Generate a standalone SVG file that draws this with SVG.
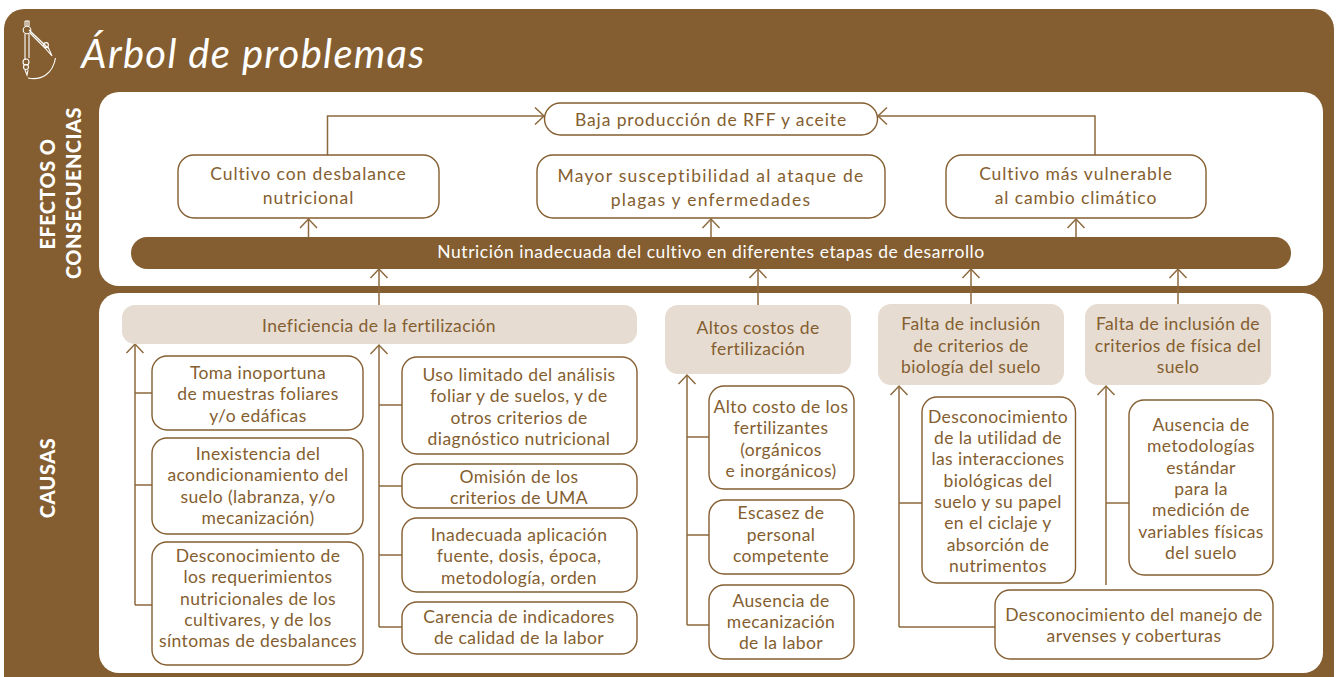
<svg xmlns="http://www.w3.org/2000/svg" width="1340" height="677" viewBox="0 0 1340 677">
<style>
text{font-family:"Lato","Liberation Sans",sans-serif;font-size:17.5px;fill:#845e30;text-anchor:middle;letter-spacing:.4px}
.t1{letter-spacing:.9px}
.t2{letter-spacing:1.25px}
.b{fill:#fff;stroke:#845e30;stroke-width:1.4}
.c{fill:#e6dcd1}
.w{fill:#fff}
.s{font-weight:900;font-size:20px;fill:#fff;letter-spacing:.45px}
.l{fill:none;stroke:#8d6a3e;stroke-width:1.5}
.a{marker-end:url(#h)}
.ic{fill:none;stroke:#fff;stroke-width:1.1}
</style>
<defs><marker id="h" markerUnits="userSpaceOnUse" markerWidth="20" markerHeight="20" refX="10" refY="10" orient="auto"><path d="M1 1.5L10 10L1 18.500" fill="none" stroke="#8d6a3e" stroke-width="1.5"/></marker></defs>
<rect x="4" y="9" width="1330" height="690" rx="20" fill="#845e30"/>
<g id="icon" class="ic"><path d="M25 21H29V26M25 21V26M27 21V26"/><circle cx="27" cy="30" r="3.800"/><path d="M25 34V60M29 34V58M25 70L27 75L28 70M30 33L46 49M29 30L48 48M48 47L52 56L45 48"/><circle cx="46" cy="45" r="2.400"/><circle cx="26" cy="62" r="3"/><circle cx="26" cy="67" r="2.500"/><path d="M28 78C42 81 53 73 55.500 58"/></g>
<text x="253.500" y="68" style="font-size:40px;font-style:italic;fill:#fff;letter-spacing:1.3px">Árbol de problemas</text>
<rect x="99" y="92" width="1224" height="194" rx="20" class="w"/>
<rect x="99" y="293" width="1224" height="380" rx="20" class="w"/>
<g id="label-efectos"><text class="s" transform="rotate(-90 55 194)" x="55" y="194">EFECTOS O</text><text class="s" transform="rotate(-90 81 193)" x="81" y="193">CONSECUENCIAS</text></g>
<text id="label-causas" class="s" transform="rotate(-90 55 478)" x="55" y="478">CAUSAS</text>
<g id="connectors">
<path class="l a" d="M327.500 155V116H544"/><path class="l a" d="M1095 155V116H878"/>
<path class="l a" d="M308.500 237V219"/><path class="l a" d="M711 237V219"/><path class="l a" d="M1076 237V219"/>
<path class="l a" d="M379 305V269"/><path class="l a" d="M758 305V269"/><path class="l a" d="M971 304V269"/><path class="l a" d="M1178 304V269"/>
<path class="l a" d="M135 605V344"/><path class="l" d="M135 393H152M135 485H152M135 605H152"/>
<path class="l a" d="M379 627V345"/><path class="l" d="M379 405H402M379 486H402M379 555H402M379 627H402"/>
<path class="l a" d="M687 625V375"/><path class="l" d="M687 437H709M687 535H709M687 625H709"/>
<path class="l a" d="M899 627V386"/><path class="l" d="M899 503H922M899 627H995"/>
<path class="l a" d="M1106 585V386"/><path class="l" d="M1106 503H1129"/>
</g>
<g id="n-baja"><rect class="b" x="544.500" y="103" width="333" height="32" rx="16"/><text class="t1" x="711" y="126">Baja producción de RFF y aceite</text></g>
<g id="n-cultivo"><rect class="b" x="178" y="155" width="261" height="63" rx="16"/><text class="t1" x="308.500" y="180">Cultivo con desbalance</text><text class="t1" x="308.500" y="204">nutricional</text></g>
<g id="n-mayor"><rect class="b" x="537" y="155" width="348" height="63" rx="16"/><text class="t2" x="711" y="182">Mayor susceptibilidad al ataque de</text><text class="t2" x="711" y="206">plagas y enfermedades</text></g>
<g id="n-vulnerable"><rect class="b" x="946" y="155" width="260" height="63" rx="16"/><text class="t1" x="1076" y="180">Cultivo más vulnerable</text><text class="t1" x="1076" y="204">al cambio climático</text></g>
<g id="n-nutricion"><rect x="131" y="237" width="1160" height="32" rx="16" fill="#845e30"/><text x="711" y="258" style="fill:#fff;letter-spacing:.55px">Nutrición inadecuada del cultivo en diferentes etapas de desarrollo</text></g>
<g id="n-ineficiencia"><rect class="c" x="122" y="305" width="515" height="39" rx="13"/><text x="379" y="332">Ineficiencia de la fertilización</text></g>
<g id="n-altos"><rect class="c" x="665" y="305" width="186" height="69" rx="13"/><text x="758" y="334">Altos costos de</text><text x="758" y="355">fertilización</text></g>
<g id="n-biologia"><rect class="c" x="878" y="304" width="186" height="81" rx="13"/><text x="971" y="330">Falta de inclusión</text><text x="971" y="352">de criterios de</text><text x="971" y="373">biología del suelo</text></g>
<g id="n-fisica"><rect class="c" x="1085" y="304" width="186" height="81" rx="13"/><text x="1178" y="330">Falta de inclusión de</text><text x="1178" y="352">criterios de física del</text><text x="1178" y="373">suelo</text></g>
<g id="n-toma"><rect class="b" x="152" y="356" width="211" height="74" rx="15"/><text x="258" y="379">Toma inoportuna</text><text x="258" y="400">de muestras foliares</text><text x="258" y="422">y/o edáficas</text></g>
<g id="n-inexistencia"><rect class="b" x="152" y="438" width="211" height="96" rx="15"/><text x="258" y="460">Inexistencia del</text><text x="258" y="481">acondicionamiento del</text><text x="258" y="503">suelo (labranza, y/o</text><text x="258" y="524">mecanización)</text></g>
<g id="n-desconocimiento-req"><rect class="b" x="152" y="542" width="211" height="123" rx="15"/><text x="258" y="562">Desconocimiento de</text><text x="258" y="583">los requerimientos</text><text x="258" y="605">nutricionales de los</text><text x="258" y="626">cultivares, y de los</text><text x="258" y="647">síntomas de desbalances</text></g>
<g id="n-uso"><rect class="b" x="402" y="357" width="235" height="97" rx="15"/><text x="519" y="381">Uso limitado del análisis</text><text x="519" y="402">foliar y de suelos, y de</text><text x="519" y="424">otros criterios de</text><text x="519" y="445">diagnóstico nutricional</text></g>
<g id="n-omision"><rect class="b" x="402" y="464" width="235" height="44" rx="15"/><text x="519" y="483">Omisión de los</text><text x="519" y="504">criterios de UMA</text></g>
<g id="n-inadecuada"><rect class="b" x="402" y="518" width="235" height="74" rx="15"/><text x="519" y="541">Inadecuada aplicación</text><text x="519" y="562">fuente, dosis, época,</text><text x="519" y="584">metodología, orden</text></g>
<g id="n-carencia"><rect class="b" x="402" y="602" width="235" height="52" rx="15"/><text x="519" y="623">Carencia de indicadores</text><text x="519" y="644">de calidad de la labor</text></g>
<g id="n-alto"><rect class="b" x="709" y="386" width="145" height="103" rx="15"/><text x="781" y="413">Alto costo de los</text><text x="781" y="434">fertilizantes</text><text x="781" y="456">(orgánicos</text><text x="781" y="477">e inorgánicos)</text></g>
<g id="n-escasez"><rect class="b" x="709" y="500" width="145" height="74" rx="15"/><text x="781" y="519">Escasez de</text><text x="781" y="541">personal</text><text x="781" y="562">competente</text></g>
<g id="n-ausencia"><rect class="b" x="709" y="585" width="145" height="74" rx="15"/><text x="781" y="607">Ausencia de</text><text x="781" y="628">mecanización</text><text x="781" y="649">de la labor</text></g>
<g id="n-desc-utilidad"><rect class="b" x="922" y="397" width="153.500" height="186" rx="15"/><text x="998" y="423">Desconocimiento</text><text x="998" y="444">de la utilidad de</text><text x="998" y="465">las interacciones</text><text x="998" y="487">biológicas del</text><text x="998" y="508">suelo y su papel</text><text x="998" y="529">en el ciclaje y</text><text x="998" y="551">absorción de</text><text x="998" y="572">nutrimentos</text></g>
<g id="n-ausencia-met"><rect class="b" x="1129" y="400" width="144" height="175" rx="15"/><text x="1201" y="431">Ausencia de</text><text x="1201" y="452">metodologías</text><text x="1201" y="474">estándar</text><text x="1201" y="495">para la</text><text x="1201" y="516">medición de</text><text x="1201" y="538">variables físicas</text><text x="1201" y="559">del suelo</text></g>
<g id="n-arvenses"><rect class="b" x="995" y="590" width="278" height="69" rx="15"/><text x="1134" y="621">Desconocimiento del manejo de</text><text x="1134" y="642">arvenses y coberturas</text></g>
</svg>
